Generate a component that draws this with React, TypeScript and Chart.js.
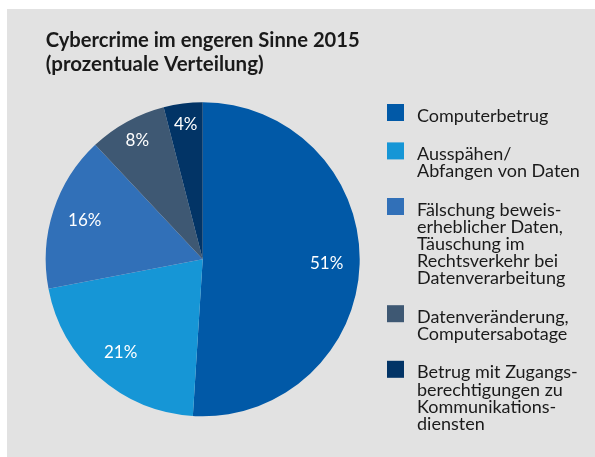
import React, { useEffect, useRef } from "react";
import { Chart, registerables } from "chart.js";

Chart.register(...registerables);

const titleLines = ["Cybercrime im engeren Sinne 2015", "(prozentuale Verteilung)"];
const categories: string[][] = [
  ["Computerbetrug"],
  ["Ausspähen/", "Abfangen von Daten"],
  ["Fälschung beweis-", "erheblicher Daten,", "Täuschung im", "Rechtsverkehr bei", "Datenverarbeitung"],
  ["Datenveränderung,", "Computersabotage"],
  ["Betrug mit Zugangs-", "berechtigungen zu", "Kommunikations-", "diensten"],
];
const values = [51, 21, 16, 8, 4];
const colors = ["#0159a7", "#1696d6", "#3170b8", "#3e5873", "#023466"];

const FONT = "Lato, 'Open Sans', sans-serif";
const TEXT = "#1a1a1a";

const backgroundPlugin = {
  id: "bgPanel",
  beforeDraw(chart: any) {
    const { ctx, width, height } = chart;
    ctx.save();
    ctx.fillStyle = "#ffffff";
    ctx.fillRect(0, 0, width, height);
    ctx.fillStyle = "#e2e2e2";
    ctx.fillRect(7, 9, width - 7, height - 9);
    ctx.restore();
  },
};

const sliceLabelPlugin = {
  id: "sliceLabels",
  afterDatasetsDraw(chart: any) {
    const { ctx } = chart;
    const meta = chart.getDatasetMeta(0);
    const data = chart.data.datasets[0].data as number[];
    ctx.save();
    ctx.fillStyle = "#ffffff";
    ctx.font = `17px ${FONT}`;
    ctx.textAlign = "center";
    ctx.textBaseline = "middle";
    meta.data.forEach((arc: any, i: number) => {
      const { x, y, startAngle, endAngle, outerRadius } = arc.getProps(
        ["x", "y", "startAngle", "endAngle", "outerRadius"],
        true
      );
      const mid = (startAngle + endAngle) / 2;
      const f = data[i] >= 15 ? 0.79 : 0.865;
      ctx.fillText(`${data[i]}%`, x + Math.cos(mid) * outerRadius * f, y + Math.sin(mid) * outerRadius * f);
    });
    ctx.restore();
  },
};

const legendPlugin = {
  id: "sideLegend",
  afterDraw(chart: any) {
    const { ctx } = chart;
    const boxX = 387;
    const box = 17;
    const textX = 417;
    const lineH = 17.2;
    const gap = 21.2;
    let top = 104;
    ctx.save();
    ctx.font = `18px ${FONT}`;
    ctx.textAlign = "left";
    ctx.textBaseline = "alphabetic";
    categories.forEach((lines, i) => {
      ctx.fillStyle = colors[i];
      ctx.fillRect(boxX, top, box, box);
      ctx.fillStyle = TEXT;
      lines.forEach((line, j) => {
        ctx.fillText(line, textX, top + 17.5 + j * lineH);
      });
      top += lines.length * lineH + gap;
    });
    ctx.restore();
  },
};

export default function App() {
  const ref = useRef<HTMLCanvasElement | null>(null);
  useEffect(() => {
    document.body.style.margin = "0";
    if (!ref.current) return;
    const chart = new Chart(ref.current, {
      type: "pie",
      data: {
        labels: categories.map((l) => l.join(" ")),
        datasets: [
          {
            data: values,
            backgroundColor: colors,
            borderWidth: 0,
          },
        ],
      },
      options: {
        responsive: false,
        animation: false,
        devicePixelRatio: 1,
        layout: { padding: { left: 45.7, right: 235.3, top: 0, bottom: 40.7 } },
        plugins: {
          legend: { display: false },
          tooltip: { enabled: false },
          title: {
            display: true,
            text: titleLines,
            align: "start",
            color: TEXT,
            font: { family: FONT, size: 20.5, weight: "bold", lineHeight: 1.15 },
            padding: { top: 29, bottom: 26.15 },
          },
        },
      },
      plugins: [backgroundPlugin, sliceLabelPlugin, legendPlugin],
    });
    return () => chart.destroy();
  }, []);
  return <canvas ref={ref} width={595} height={457} style={{ display: "block", width: 595, height: 457 }} />;
}
